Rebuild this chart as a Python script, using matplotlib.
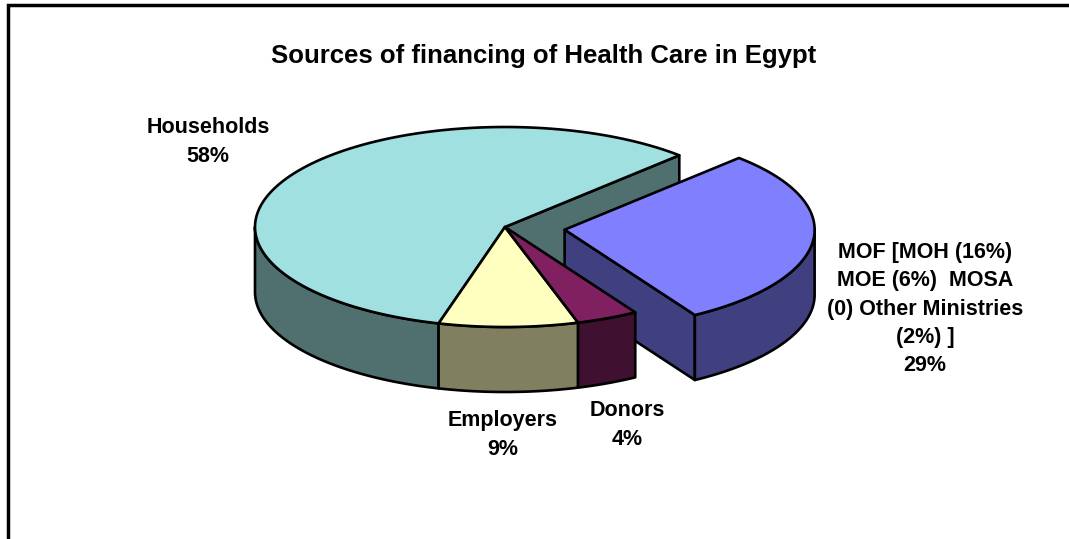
import numpy as np
import matplotlib
matplotlib.use("Agg")
import matplotlib.pyplot as plt
from matplotlib.patches import Polygon

# ---- data ----
categories = ["Households", "Employers", "Donors",
              "MOF [MOH (16%)\nMOE (6%)  MOSA\n(0) Other Ministries\n(2%) ]"]
values = [58, 9, 4, 29]
explode = [0, 0, 0, 0.24]
top_colors = ["#A0E0E0", "#FFFFC0", "#802060", "#8080FF"]
side_colors = ["#507070", "#808060", "#401030", "#404080"]
title = "Sources of financing of Health Care in Egypt"

# ---- geometry ----
W, H = 1069, 539
cx, cy = 505, 227
ra, rb = 250, 100
depth = 65
start = 45.8

fig = plt.figure(figsize=(W / 100, H / 100), dpi=100)
ax = fig.add_axes([0, 0, 1, 1])
ax.set_xlim(0, W)
ax.set_ylim(H, 0)
ax.axis("off")

plt.rcParams['font.family'] = ['Liberation Sans', 'DejaVu Sans']

total = sum(values)
angles = []
a0 = start
for v in values:
    a1 = a0 + 360.0 * v / total
    angles.append((a0, a1))
    a0 = a1

def pt(ox, oy, th, dz=0):
    t = np.radians(th)
    return ox + ra * np.cos(t), oy - rb * np.sin(t) + dz

def arc(ox, oy, t0, t1, dz=0, n=120):
    ts = np.linspace(t0, t1, n)
    return [pt(ox, oy, t, dz) for t in ts]

lw = 1.9
ec = "black"

def offset(i):
    m = np.radians(sum(angles[i]) / 2)
    return cx + explode[i] * ra * np.cos(m), cy - explode[i] * rb * np.sin(m)

def draw_face(ox, oy, th, color, z):
    p = pt(ox, oy, th)
    poly = [(ox, oy), p, (p[0], p[1] + depth), (ox, oy + depth)]
    ax.add_patch(Polygon(poly, closed=True, fc=color, ec=ec, lw=lw,
                         joinstyle="round", zorder=z))

def draw_wall(ox, oy, t0, t1, color, z):
    # visible front half: angles within [180, 360] modulo 360
    for k in (-360, 0, 360):
        lo = max(t0, 180 + k)
        hi = min(t1, 360 + k)
        if hi > lo:
            top = arc(ox, oy, lo, hi)
            bot = arc(ox, oy, hi, lo, depth)
            ax.add_patch(Polygon(top + bot, closed=True, fc=color, ec=ec,
                                 lw=lw, joinstyle="round", zorder=z))

def draw_top(ox, oy, t0, t1, color, z):
    poly = [(ox, oy)] + arc(ox, oy, t0, t1)
    ax.add_patch(Polygon(poly, closed=True, fc=color, ec=ec, lw=lw,
                         joinstyle="round", zorder=z))

# households start face (visible through the gap)
ox, oy = offset(0)
draw_face(ox, oy, angles[0][0], side_colors[0], 1)

# exploded MOF slice
ox, oy = offset(3)
draw_face(ox, oy, angles[3][0], side_colors[3], 2)
draw_wall(ox, oy, angles[3][0], angles[3][1], side_colors[3], 2)
draw_top(ox, oy, angles[3][0], angles[3][1], top_colors[3], 3)

# remaining slices
for i in range(3):
    ox, oy = offset(i)
    draw_wall(ox, oy, angles[i][0], angles[i][1], side_colors[i], 4)
for i in range(3):
    ox, oy = offset(i)
    draw_top(ox, oy, angles[i][0], angles[i][1], top_colors[i], 5)

# ---- labels ----
label_pos = [(208, 142), (503, 435), (627, 425), (925, 309)]
fs = 15.5
for (lx, ly), c, v in zip(label_pos, categories, values):
    ax.text(lx, ly, f"{c}\n{v}%", ha="center", va="center", fontsize=fs,
            fontweight="bold", linespacing=1.46, zorder=10)

ax.text(544, 56, title, ha="center", va="center", fontsize=18.5,
        fontweight="bold", zorder=10)

# chart frame (left and top edges visible)
ax.plot([8, 8, W + 5], [H + 5, 5, 5], color="black", lw=2.5,
        solid_joinstyle="miter", clip_on=False, zorder=11)

fig.savefig("out.png", dpi=100)
